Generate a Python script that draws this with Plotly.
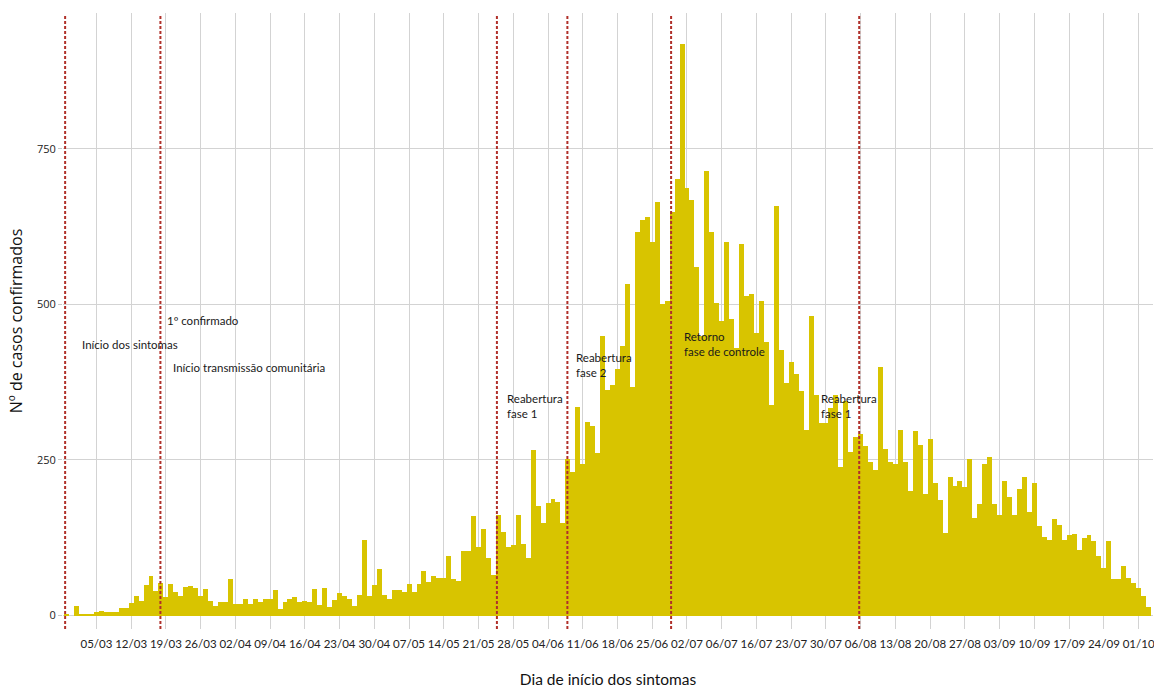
import plotly.graph_objects as go

# Daily confirmed cases by symptom-onset day, first value = 28/02 (day -6 relative to 05/03)
first_day = -6
cases = [
    3, 0, 15, 2, 3, 3,                       # -6..-1
    6, 8, 6, 6, 6, 12, 12,                   # 0..6
    20, 31, 23, 49, 63, 39, 52,              # 7..13
    30, 50, 38, 32, 46, 47, 44,              # 14..20
    32, 42, 23, 15, 22, 21, 58,              # 21..27
    19, 19, 27, 19, 26, 21, 26,              # 28..34
    27, 41, 11, 22, 27, 29, 21,              # 35..41
    24, 22, 42, 17, 44, 14, 25,              # 42..48
    36, 32, 27, 16, 33, 122, 31,             # 49..55
    49, 74, 33, 26, 41, 41, 37,              # 56..62
    51, 38, 51, 72, 54, 63, 61,              # 63..69
    61, 95, 59, 55, 104, 104, 160,           # 70..76
    110, 139, 93, 65, 162, 134, 110,         # 77..83
    114, 161, 115, 92, 266, 176, 149,        # 84..90
    181, 188, 183, 148, 251, 230, 336,       # 91..97
    244, 311, 304, 262, 450, 363, 370,       # 98..104
    397, 433, 533, 368, 616, 636, 640,       # 105..111
    601, 665, 500, 505, 648, 701, 919,       # 112..118
    687, 668, 560, 450, 714, 616, 502,       # 119..125
    473, 600, 477, 430, 598, 514, 517,       # 126..132
    454, 506, 440, 338, 658, 427, 374,       # 133..139
    407, 388, 361, 299, 481, 355, 310,       # 140..146
    310, 334, 355, 238, 345, 263, 287,       # 147..153
    291, 272, 247, 234, 399, 268, 247,       # 154..160
    244, 299, 247, 200, 296, 274, 195,       # 161..167
    283, 213, 186, 132, 222, 208, 216,       # 168..174
    207, 251, 157, 180, 243, 255, 179,       # 175..181
    162, 217, 190, 162, 203, 222, 167,       # 182..188
    213, 144, 126, 122, 155, 145, 122,       # 189..195
    129, 131, 106, 125, 129, 120, 96,        # 196..202
    77, 120, 58, 58, 79, 61, 53,             # 203..209
    45, 32, 14,                              # 210..212
]
days = list(range(first_day, first_day + len(cases)))

tick_days = list(range(0, 211, 7))
tick_labels = ["05/03", "12/03", "19/03", "26/03", "02/04", "09/04", "16/04",
               "23/04", "30/04", "07/05", "14/05", "21/05", "28/05", "04/06",
               "11/06", "18/06", "25/06", "02/07", "06/07", "16/07", "23/07",
               "30/07", "06/08", "13/08", "20/08", "27/08", "03/09", "10/09",
               "17/09", "24/09", "01/10"]

event_days = [-6.3, 12.9, 80.7, 94.9, 115.8, 153.7]

event_texts = ["Início dos sintomas", "1º confirmado", "Início transmissão comunitária",
               "Reabertura<br>fase 1", "Reabertura<br>fase 2",
               "Retorno<br>fase de controle", "Reabertura<br>fase 1"]
event_text_x = [-3.3, 13.9, 15.1, 82.4, 96.2, 118.0, 145.6]
event_text_y = [436, 475, 398, 337, 402, 436, 337]

BAR = "#D8C400"
RED = "#B0302A"
FONT = "Lato"

fig = go.Figure()
fig.add_trace(go.Bar(x=days, y=cases, width=1.0, marker=dict(color=BAR, line=dict(width=0)),
                     showlegend=False))

for d in event_days:
    fig.add_shape(type="line", xref="x", yref="paper", x0=d, x1=d, y0=0, y1=0.995,
                  line=dict(color=RED, width=2, dash="3px,2px"), layer="above")

for t, x, y in zip(event_texts, event_text_x, event_text_y):
    fig.add_annotation(x=x, y=y, xref="x", yref="y", text=t, showarrow=False,
                       xanchor="left", yanchor="middle", align="left",
                       font=dict(family=FONT, size=11.5, color="#1a1a1a"))

fig.update_layout(
    width=1154, height=689,
    margin=dict(l=63, r=1, t=13, b=60, autoexpand=False),
    paper_bgcolor="white", plot_bgcolor="white",
    bargap=0,
    font=dict(family=FONT, color="#222"),
    xaxis=dict(
        range=[-6.73, 212.9], tickmode="array", tickvals=tick_days, ticktext=tick_labels,
        automargin=False, ticklabeloverflow="allow", ticklabelstandoff=6,
        showgrid=True, gridcolor="#D3D3D3", gridwidth=1, zeroline=False,
        showline=False, ticks="", tickfont=dict(family=FONT, size=11.5, color="#222"),
        title=dict(text="Dia de início dos sintomas", font=dict(family=FONT, size=15.5, color="#111"),
                   standoff=25),
    ),
    yaxis=dict(
        range=[-21.7, 968.6], tickmode="array", tickvals=[0, 250, 500, 750],
        automargin=False,
        showgrid=True, gridcolor="#D3D3D3", gridwidth=1, zeroline=False,
        showline=False, ticks="outside", ticklen=4, tickcolor="#C8C8C8",
        tickfont=dict(family="Open Sans", size=11, color="#222"),
        title=dict(text="Nº de casos confirmados", font=dict(family="Open Sans", size=16, color="#111"),
                   standoff=10),
    ),
)

fig.write_html("out.html", config={"displayModeBar": False},
               post_script="document.body.style.margin='0';document.body.style.padding='0';"
                           "document.body.style.overflow='hidden';")
